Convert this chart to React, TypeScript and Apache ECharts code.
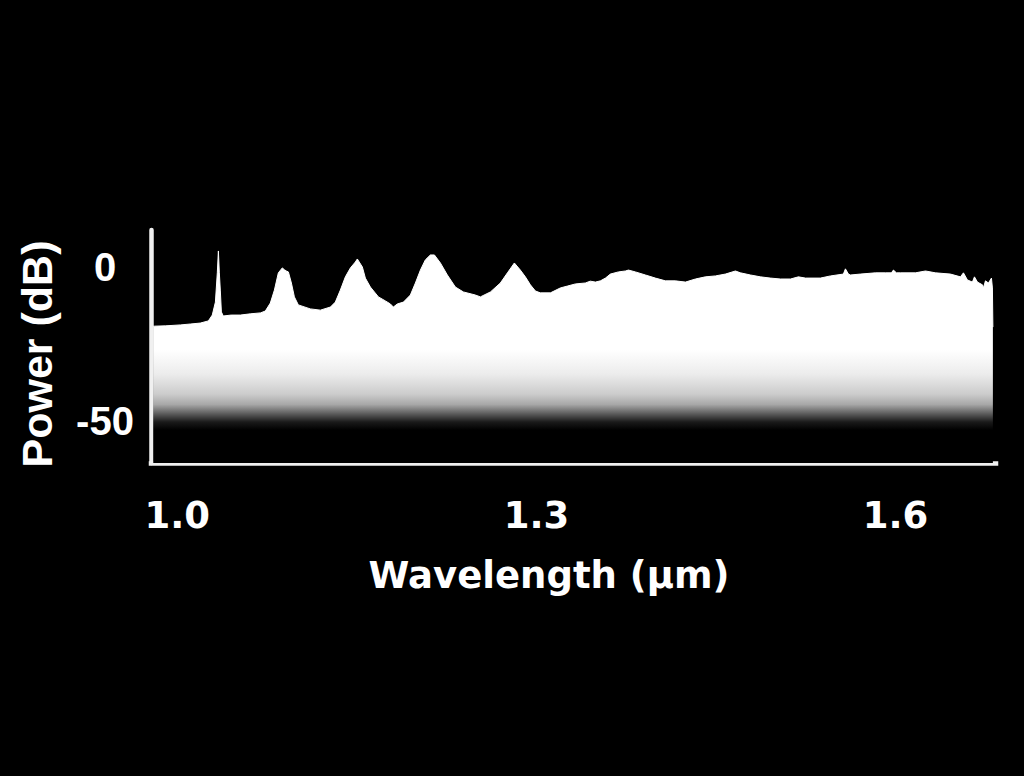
import React, { useEffect, useRef } from "react";
import * as echarts from "echarts";

// Wavelength (µm) of each traced point of the spectrum
const wavelength: number[] = [
  0.9799, 0.9808, 0.99, 1.0025, 1.011, 1.0192, 1.0259, 1.0292, 1.0318, 1.0334,
  1.0343, 1.0351, 1.0359, 1.0368, 1.0384, 1.045, 1.0526, 1.061, 1.0694, 1.0735,
  1.0777, 1.0811, 1.0844, 1.0877, 1.0895, 1.0911, 1.0928, 1.0953, 1.0978, 1.1011,
  1.1111, 1.1195, 1.1279, 1.132, 1.1362, 1.1404, 1.1446, 1.1487, 1.1504, 1.1546,
  1.1571, 1.1613, 1.168, 1.1738, 1.178, 1.1805, 1.1838, 1.1889, 1.1947, 1.1989,
  1.2031, 1.2072, 1.2114, 1.2148, 1.2198, 1.2256, 1.2323, 1.239, 1.249, 1.2532,
  1.2616, 1.2699, 1.2758, 1.2816, 1.2866, 1.2908, 1.295, 1.2992, 1.3033, 1.3117,
  1.32, 1.3259, 1.3326, 1.3409, 1.345, 1.3493, 1.3535, 1.3577, 1.3618, 1.3685,
  1.3744, 1.3769, 1.3827, 1.3911, 1.3994, 1.4078, 1.4161, 1.4245, 1.4329, 1.4412,
  1.4496, 1.4579, 1.4663, 1.4705, 1.4788, 1.4872, 1.4955, 1.5039, 1.5123, 1.5189,
  1.5248, 1.5373, 1.5457, 1.5565, 1.5582, 1.5607, 1.5624, 1.5707, 1.5833, 1.5916,
  1.5966, 1.5983, 1.6008, 1.6042, 1.6167, 1.6251, 1.6334, 1.6459, 1.6543, 1.6568,
  1.6601, 1.6643, 1.666, 1.6685, 1.6727, 1.6735, 1.6752, 1.6777, 1.6802, 1.681,
  1.6814,
];

// Power (dB) at each wavelength above
const power: number[] = [
  -19.2, -19.2, -19.1, -18.8, -18.5, -18.2, -17.5, -15.6, -11.4, -1.9,
  5.2, -1.9, -7.5, -14.6, -15.9, -15.6, -15.6, -15.2, -14.9, -14.3,
  -11.7, -7.5, -1.9, -0.3, -0.9, -1.3, -1.6, -5.2, -9.7, -12.3,
  -13.6, -14.0, -13.0, -11.4, -7.5, -3.2, -0.3, 1.6, 2.6, 0.0,
  -3.6, -6.5, -9.7, -11.0, -12.0, -13.0, -12.0, -11.4, -9.1, -5.2,
  -1.0, 2.3, 3.9, 3.9, 1.3, -2.6, -6.5, -8.1, -9.1, -9.7,
  -8.1, -5.2, -1.9, 1.3, -1.0, -3.2, -5.8, -7.8, -8.4, -8.4,
  -6.8, -6.2, -5.5, -5.2, -4.6, -4.9, -4.5, -3.6, -2.3, -1.6,
  -1.3, -1.0, -1.6, -2.6, -3.6, -4.5, -4.5, -4.9, -3.9, -3.2,
  -2.9, -2.3, -1.3, -1.9, -2.6, -3.2, -3.6, -3.9, -3.9, -3.2,
  -3.6, -3.6, -2.9, -2.3, -0.6, -2.3, -2.6, -2.3, -1.9, -1.9,
  -1.9, -1.0, -1.9, -1.9, -1.9, -1.3, -1.9, -2.3, -3.2, -1.9,
  -4.2, -4.9, -3.2, -4.9, -5.8, -6.8, -4.5, -5.2, -3.6, -6.8,
  -19.5,
];

const xTickValues: number[] = [1.0, 1.3, 1.6];
const xTickLabels: string[] = ["1.0", "1.3", "1.6"];
const yTickValues: number[] = [0, -50];
const yTickLabels: string[] = ["0", "-50"];

const xTitle = "Wavelength (µm)";
const yTitle = "Power (dB)";

export default function App() {
  const ref = useRef<HTMLDivElement>(null);

  useEffect(() => {
    if (!ref.current) return;
    const chart = echarts.init(ref.current, null, { renderer: "svg" });
    const seriesData = wavelength.map((w, i) => [w, power[i]]);

    chart.setOption({
      animation: false,
      backgroundColor: "#000000",
      grid: { left: 151, right: 28, top: 230, bottom: 313 },
      xAxis: {
        type: "value",
        min: 0.978,
        max: 1.684,
        axisLine: { show: true, onZero: false, lineStyle: { color: "#f0f0f0", width: 4.5, cap: "square" } },
        axisTick: { show: false },
        splitLine: { show: false },
        axisLabel: {
          customValues: xTickValues,
          margin: 34,
          color: "#ffffff",
          fontFamily: "DejaVu Sans",
          fontWeight: "bold",
          fontSize: 37,
          formatter: (v: number) => {
            const i = xTickValues.findIndex((t) => Math.abs(t - v) < 1e-6);
            return i >= 0 ? xTickLabels[i] : "";
          },
        },
      },
      yAxis: {
        type: "value",
        min: -63.6,
        max: 12,
        axisLine: { show: true, onZero: false, lineStyle: { color: "#f0f0f0", width: 4.5 } },
        axisTick: { show: false },
        splitLine: { show: false },
        axisLabel: {
          customValues: yTickValues,
          margin: 46,
          align: "center",
          color: "#ffffff",
          fontFamily: "Liberation Sans",
          fontWeight: "bold",
          fontSize: 40,
          formatter: (v: number) => {
            const i = yTickValues.findIndex((t) => Math.abs(t - v) < 1e-6);
            return i >= 0 ? yTickLabels[i] : "";
          },
        },
      },
      graphic: [
        {
          type: "text",
          x: 549,
          y: 575,
          style: {
            text: xTitle,
            fill: "#ffffff",
            font: "bold 37px 'DejaVu Sans'",
            textAlign: "center",
            textVerticalAlign: "middle",
          },
        },
        {
          type: "text",
          x: 37,
          y: 354,
          rotation: Math.PI / 2,
          style: {
            text: yTitle,
            fill: "#ffffff",
            font: "bold 43px 'Liberation Sans'",
            textAlign: "center",
            textVerticalAlign: "middle",
          },
        },
      ],
      series: [
        {
          type: "line",
          data: seriesData,
          showSymbol: false,
          symbol: "none",
          silent: true,
          lineStyle: { color: "#ffffff", width: 1 },
          areaStyle: {
            origin: "start",
            opacity: 1,
            color: {
              type: "linear",
              x: 0,
              y: 350,
              x2: 0,
              y2: 430,
              global: true,
              colorStops: [
                { offset: 0, color: "#ffffff" },
                { offset: 0.3, color: "#ececec" },
                { offset: 0.55, color: "#cccccc" },
                { offset: 0.68, color: "#a8a8a8" },
                { offset: 0.8, color: "#5a5a5a" },
                { offset: 0.9, color: "#1a1a1a" },
                { offset: 1, color: "#000000" },
              ],
            },
          },
        },
      ],
    });

    return () => chart.dispose();
  }, []);

  return (
    <div
      ref={ref}
      style={{
        position: "fixed",
        left: 0,
        top: 0,
        width: 1024,
        height: 776,
        background: "#000000",
      }}
    />
  );
}
